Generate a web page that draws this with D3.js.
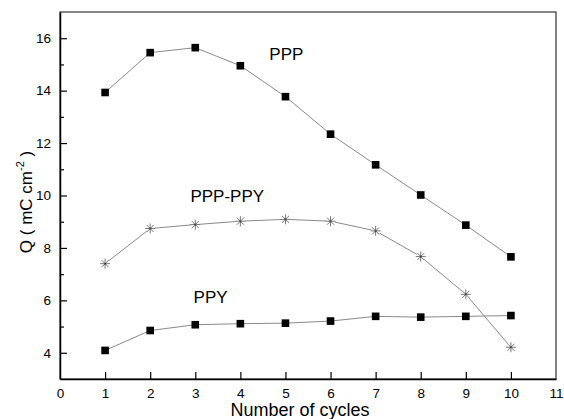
<!DOCTYPE html>
<html><head><meta charset="utf-8">
<script src="https://cdn.jsdelivr.net/npm/d3@7"></script>
<style>body{margin:0;background:#fff;}svg{display:block;font-family:"Liberation Sans",Arial,sans-serif;}</style>
</head><body>
<script>
const cycles = [1,2,3,4,5,6,7,8,9,10];
const ppp = [13.93,15.45,15.64,14.95,13.77,12.34,11.17,10.02,8.87,7.66];
const pppPpy = [7.40,8.74,8.89,9.02,9.09,9.02,8.65,7.67,6.23,4.21];
const ppy = [4.09,4.85,5.07,5.11,5.13,5.21,5.39,5.36,5.39,5.42];
const xTicks = [0,1,2,3,4,5,6,7,8,9,10,11];
const yTicks = [4,6,8,10,12,14,16];
const yMinor = [5,7,9,11,13,15];
const seriesLabels = [{name:"PPP",x:5.02,y:15.17},{name:"PPP-PPY",x:3.71,y:9.76},{name:"PPY",x:3.34,y:5.90}];

const W=564,H=419;
const svg=d3.select("body").append("svg").attr("width",W).attr("height",H);
const x=d3.scaleLinear().domain([0,11]).range([60,556]);
const y=d3.scaleLinear().domain([3,17]).range([379,12]);
const FF="Liberation Sans, Arial, sans-serif";

// frame
svg.append("rect").attr("x",60).attr("y",12).attr("width",496).attr("height",367)
  .attr("fill","none").attr("stroke","#333").attr("stroke-width",1.2);

const xAxis=svg.append("g").attr("transform","translate(0,379)")
  .call(d3.axisBottom(x).tickValues(xTicks).tickSizeInner(-7).tickSizeOuter(0).tickPadding(9));
xAxis.select(".domain").attr("stroke","#000").attr("stroke-width",1.5);
xAxis.selectAll(".tick line").attr("stroke","#000").attr("stroke-width",1.2);
xAxis.selectAll("text").attr("font-size",13.5).attr("fill","#000").attr("font-family",FF);
xAxis.selectAll(".tick").filter(d=>d===0||d===11).select("line").remove();

const yAxis=svg.append("g").attr("transform","translate(60,0)")
  .call(d3.axisLeft(y).tickValues(yTicks).tickSizeInner(-7).tickSizeOuter(0).tickPadding(9));
yAxis.select(".domain").attr("stroke","#000").attr("stroke-width",1.5);
yAxis.selectAll(".tick line").attr("stroke","#000").attr("stroke-width",1.2);
yAxis.selectAll("text").attr("font-size",13.5).attr("fill","#000").attr("font-family",FF);

svg.append("g").attr("transform","translate(60,0)")
  .call(d3.axisLeft(y).tickValues(yMinor).tickSizeInner(-4).tickSizeOuter(0).tickFormat(""))
  .call(g=>g.select(".domain").remove())
  .selectAll("line").attr("stroke","#000").attr("stroke-width",1.2);

const line=d3.line().x((d,i)=>x(cycles[i])).y(d=>y(d));
[ppp,pppPpy,ppy].forEach(s=>{
  svg.append("path").datum(s).attr("d",line).attr("fill","none").attr("stroke","#8a8a8a").attr("stroke-width",1);
});

// square markers
[ppp,ppy].forEach(s=>{
  svg.append("g").selectAll("rect").data(s).join("rect")
    .attr("x",(d,i)=>x(cycles[i])-3.8).attr("y",d=>y(d)-3.8)
    .attr("width",7.6).attr("height",7.6).attr("fill","#000");
});
// star markers
const star=svg.append("g");
pppPpy.forEach((d,i)=>{
  const cx=x(cycles[i]),cy=y(d),r=5;
  const g=star.append("g").attr("transform",`translate(${cx},${cy})`);
  g.append("circle").attr("r",4.5).attr("fill","#fff");
  [0,45,90,135].forEach(a=>{
    const rad=a*Math.PI/180;
    g.append("line").attr("x1",-r*Math.cos(rad)).attr("y1",-r*Math.sin(rad))
      .attr("x2",r*Math.cos(rad)).attr("y2",r*Math.sin(rad))
      .attr("stroke","#777").attr("stroke-width",1);
  });
  g.append("circle").attr("r",1).attr("fill","#444");
});

// series labels
svg.append("g").selectAll("text").data(seriesLabels).join("text")
  .attr("x",d=>x(d.x)).attr("y",d=>y(d.y)).attr("text-anchor","middle")
  .attr("font-size",17).attr("fill","#000").text(d=>d.name);

// axis titles
svg.append("text").attr("x",300).attr("y",416).attr("text-anchor","middle")
  .attr("font-size",18).attr("fill","#000").text("Number of cycles");
const yt=svg.append("text").attr("transform","translate(32,202) rotate(-90)")
  .attr("text-anchor","middle").attr("font-size",17).attr("fill","#000");
yt.append("tspan").text("Q ( mC cm");
yt.append("tspan").attr("dy",-8).attr("font-size",11).text("-2");
yt.append("tspan").attr("dy",8).text(" )");
</script>
</body></html>
